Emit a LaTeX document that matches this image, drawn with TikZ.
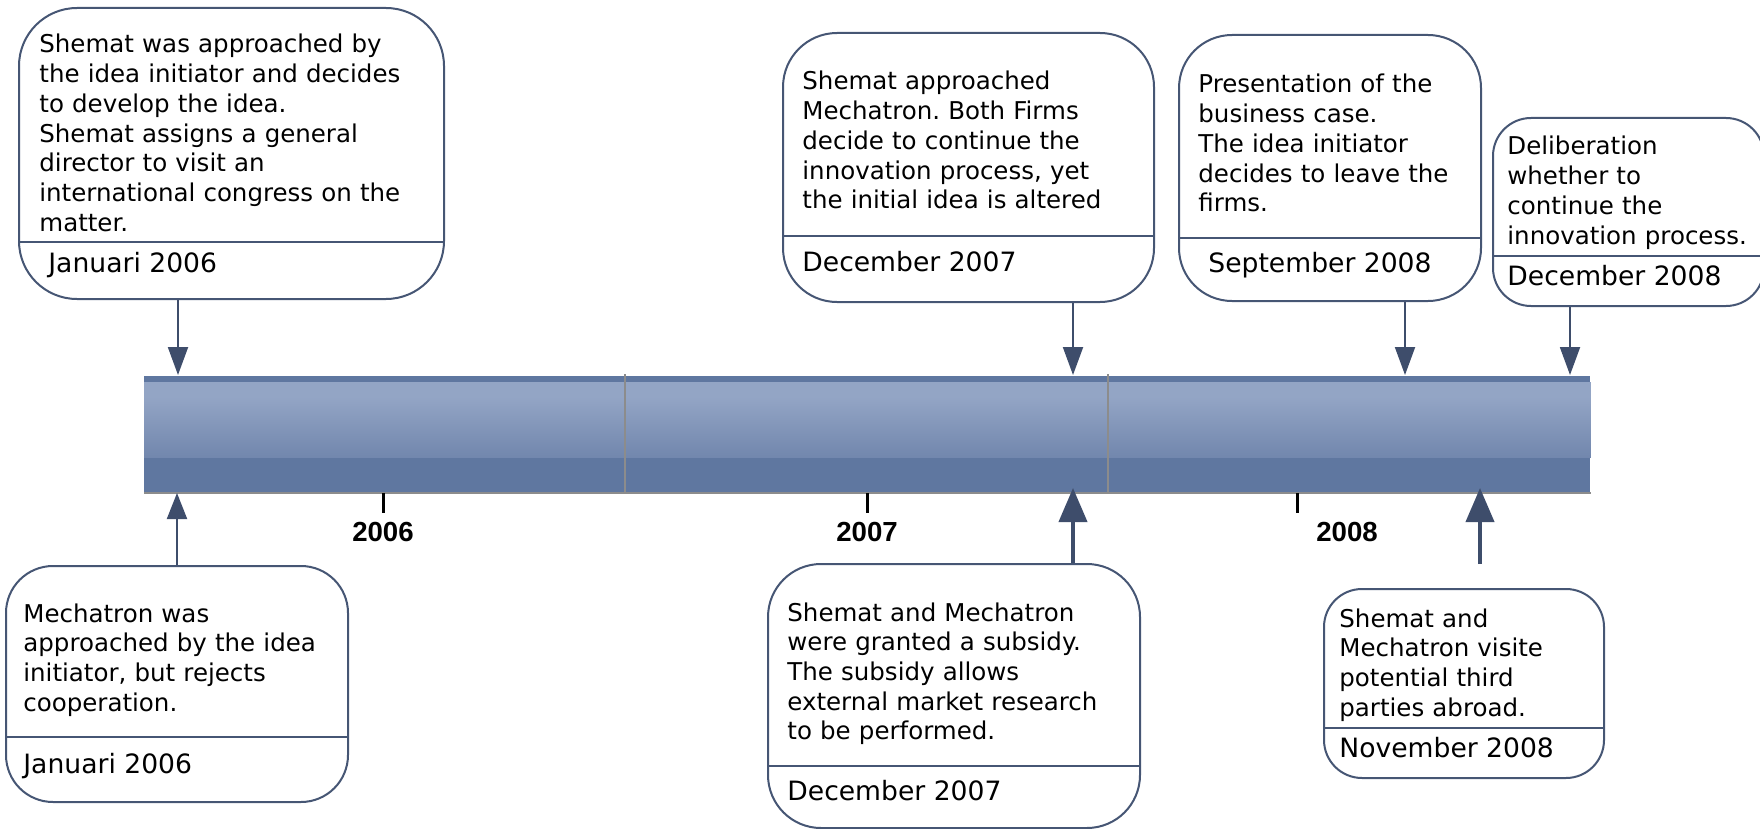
\documentclass[tikz,border=0pt]{standalone}
\usepackage{fontspec}
\setmainfont{DejaVu Sans}
\newfontfamily\yearfont{Liberation Sans}
\usetikzlibrary{arrows.meta}
\frenchspacing

\definecolor{barblue}{HTML}{5F77A0}
\definecolor{barmid}{HTML}{7A8EB3}
\definecolor{barlight}{HTML}{93A5C5}
\definecolor{boxline}{HTML}{465674}
\definecolor{arrowc}{HTML}{3E4D6B}
\definecolor{sepgray}{HTML}{8C8C8C}

% light dotted band across the upper part of the time bar
\pgfdeclareverticalshading{bandshade}{100bp}{%
  color(0bp)=(barblue); color(35bp)=(barmid); color(65bp)=(barlight);
  color(92bp)=(barlight); color(100bp)=(barmid)}

\begin{document}
\begin{tikzpicture}[x=0.5pt,y=-0.5pt,
  box/.style={draw=boxline, line width=1pt, fill=white, inner sep=0pt, anchor=north west},
  divline/.style={draw=boxline, line width=0.9pt},
  body/.style={font=\fontsize{12.25}{14.85}\selectfont, text width=240pt, align=left,
               inner sep=0pt, anchor=base west},
  datetext/.style={font=\fontsize{13.3}{16}\selectfont, inner sep=0pt, anchor=base west},
  yearlabel/.style={font=\yearfont\bfseries\fontsize{13.8}{16}\selectfont, inner sep=0pt, anchor=base},
  yeartick/.style={draw=black, line width=1.5pt},
  thinarrow/.style={draw=arrowc, line width=1pt, -{Triangle[length=14pt,width=10pt]}},
  smallarrow/.style={draw=arrowc, line width=1pt, -{Triangle[length=13pt,width=10pt]}},
  thickarrow/.style={draw=arrowc, line width=2pt, -{Triangle[length=17pt,width=14pt]}},
]
\useasboundingbox (0,0) rectangle (1760,829);
\clip (0,0) rectangle (1760,829);

% ---- time bar ----
\node[fill=barblue, draw=none, inner sep=0pt, anchor=north west,
      minimum width=723pt, minimum height=58pt] (bar) at (144,376) {};
\shade[shading=bandshade] (bar.west |- 0,382) rectangle (bar.east |- 0,457);
\draw[sepgray, line width=1pt] (bar.south west) -- (bar.south east);
\draw[sepgray, line width=0.75pt] (bar.south -| 625,0) -- (625,374);
\draw[sepgray, line width=0.75pt] (bar.south -| 1108,0) -- (1108,374);

% ---- year ticks and labels ----
\draw[yeartick] (bar.south -| 383,0) -- (383,513);
\draw[yeartick] (bar.south -| 867,0) -- (867,513);
\draw[yeartick] (bar.south -| 1297,0) -- (1297,513);
\node[yearlabel] (y2006) at (383,541) {2006};
\node[yearlabel] (y2007) at (867,541) {2007};
\node[yearlabel] (y2008) at (1347,541) {2008};

% ---- event boxes ----
\node[box, rounded corners=29pt, minimum width=212.5pt, minimum height=145.5pt] (b1) at (18,7) {};
\draw[divline] (b1.west |- 0,242) -- (b1.east |- 0,242);
\node[body] (t1) at (39,53) {Shemat was approached by\\the idea initiator and decides\\to develop the idea.\\Shemat assigns a general\\director to visit an\\international congress on the\\matter.};
\node[datetext] (d1) at (48,272) {Januari 2006};

\node[box, rounded corners=23.5pt, minimum width=171pt, minimum height=118pt] (b2) at (5,565) {};
\draw[divline] (b2.west |- 0,737) -- (b2.east |- 0,737);
\node[body] (t2) at (23,622) {Mechatron was\\approached by the idea\\initiator, but rejects\\cooperation.};
\node[datetext] (d2) at (23,773) {Januari 2006};

\node[box, rounded corners=27pt, minimum width=185.5pt, minimum height=134.5pt] (b3) at (782,32) {};
\draw[divline] (b3.west |- 0,236) -- (b3.east |- 0,236);
\node[body] (t3) at (802,90) {Shemat approached\\Mechatron. Both Firms\\decide to continue the\\innovation process, yet\\the initial idea is altered};
\node[datetext] (d3) at (802,271) {December 2007};

\node[box, rounded corners=26.5pt, minimum width=186pt, minimum height=132pt] (b4) at (767,563) {};
\draw[divline] (b4.west |- 0,766) -- (b4.east |- 0,766);
\node[body] (t4) at (787,621) {Shemat and Mechatron\\were granted a subsidy.\\The subsidy allows\\external market research\\to be performed.};
\node[datetext] (d4) at (787,800) {December 2007};

\node[box, rounded corners=26.5pt, minimum width=151pt, minimum height=133pt] (b5) at (1178,34) {};
\draw[divline] (b5.west |- 0,238) -- (b5.east |- 0,238);
\node[body] (t5) at (1198,93) {Presentation of the\\business case.\\The idea initiator\\decides to leave the\\firms.};
\node[datetext] (d5) at (1208,272) {September 2008};

\node[box, rounded corners=19pt, minimum width=135.5pt, minimum height=94pt] (b6) at (1492,117) {};
\draw[divline] (b6.west |- 0,256) -- (b6.east |- 0,256);
\node[body] (t6) at (1507,155) {Deliberation\\whether to\\continue the\\innovation process.};
\node[datetext] (d6) at (1507,285) {December 2008};

\node[box, rounded corners=19pt, minimum width=140pt, minimum height=94.5pt] (b7) at (1323,588) {};
\draw[divline] (b7.west |- 0,728) -- (b7.east |- 0,728);
\node[body] (t7) at (1339,627) {Shemat and\\Mechatron visite\\potential third\\parties abroad.};
\node[datetext] (d7) at (1339,757) {November 2008};

% ---- arrows onto the time bar ----
\coordinate (p1) at (178,375);
\coordinate (p3) at (1073,375);
\coordinate (p5) at (1405,375);
\coordinate (p6) at (1570,375);
\coordinate (q2) at (177,493);
\coordinate (q4) at (1073,488);
\coordinate (q7) at (1480,488);
\coordinate (q7tail) at (1480,564);

\draw[thinarrow] (p1 |- b1.south) -- (p1);
\draw[thinarrow] (p3 |- b3.south) -- (p3);
\draw[thinarrow] (p5 |- b5.south) -- (p5);
\draw[thinarrow] (p6 |- b6.south) -- (p6);
\draw[smallarrow] (q2 |- b2.north) -- (q2);
\draw[thickarrow] (q4 |- b4.north) -- (q4);
\draw[thickarrow] (q7tail) -- (q7);
\end{tikzpicture}
\end{document}
